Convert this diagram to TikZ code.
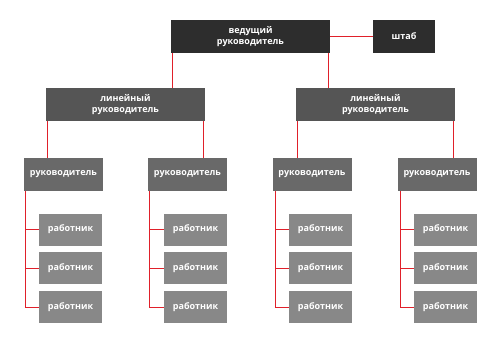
\documentclass[tikz,border=0pt]{standalone}
\usepackage{fontspec}
\setmainfont{Open Sans}
\begin{document}
\begin{tikzpicture}[x=1pt,y=-1pt,
  box/.style={rectangle,inner sep=0pt,text=white,font=\bfseries\fontsize{9}{11.5}\selectfont,align=center},
  lead/.style={box,fill=lead,minimum width=159pt,minimum height=33pt},
  staffbox/.style={box,fill=lead,minimum width=62pt,minimum height=33pt},
  linbox/.style={box,fill=lin,minimum width=159pt,minimum height=33pt},
  mgr/.style={box,fill=mgr,minimum width=79pt,minimum height=33pt},
  wrk/.style={box,fill=wrk,minimum width=63pt,minimum height=32pt},
  conn/.style={draw=conn,line width=1pt}]
\definecolor{lead}{HTML}{2D2D2D}
\definecolor{lin}{HTML}{555555}
\definecolor{mgr}{HTML}{696969}
\definecolor{wrk}{HTML}{888888}
\definecolor{conn}{HTML}{E0202A}
\useasboundingbox[fill=white] (0,0) rectangle (500,350);
\node[lead] (top) at (250.5,36.5) {ведущий\\руководитель};
\node[staffbox] (staff) at (404,36.5) {штаб};
\node[linbox] (l1) at (125.5,104.5) {линейный\\руководитель};
\node[linbox] (l2) at (375.5,104.5) {линейный\\руководитель};
\node[mgr] (m1) at (63.5,174.5) {руководитель};
\node[mgr] (m2) at (187.5,174.5) {руководитель};
\node[mgr] (m3) at (312,174.5) {руководитель};
\node[mgr] (m4) at (437,174.5) {руководитель};
\foreach \m/\x in {1/70.5,2/195.5,3/320.5,4/445.5}{
  \node[wrk] (w\m a) at (\x,229.5) {работник};
  \node[wrk] (w\m b) at (\x,268.3) {работник};
  \node[wrk] (w\m c) at (\x,307) {работник};
}
% connectors
\draw[conn] (top.east) -- (staff.west);
\draw[conn] ([xshift=1.5pt]top.south west) -- ([xshift=1.5pt]top.south west |- l1.north);
\draw[conn] ([xshift=-2pt]top.south east) -- ([xshift=-2pt]top.south east |- l2.north);
\draw[conn] ([xshift=1.5pt]l1.south west) -- ([xshift=1.5pt]l1.south west |- m1.north);
\draw[conn] ([xshift=-1.5pt]l1.south east) -- ([xshift=-1.5pt]l1.south east |- m2.north);
\draw[conn] ([xshift=1.5pt]l2.south west) -- ([xshift=1.5pt]l2.south west |- m3.north);
\draw[conn] ([xshift=-1.5pt]l2.south east) -- ([xshift=-1.5pt]l2.south east |- m4.north);
\foreach \m/\s in {1/2,2/2,3/3.5,4/3.5}{
  \draw[conn] ([xshift=\s pt]m\m.south west) |- (w\m c.west);
  \draw[conn] ([xshift=\s pt]m\m.south west |- w\m a.west) -- (w\m a.west);
  \draw[conn] ([xshift=\s pt]m\m.south west |- w\m b.west) -- (w\m b.west);
}
\end{tikzpicture}
\end{document}
